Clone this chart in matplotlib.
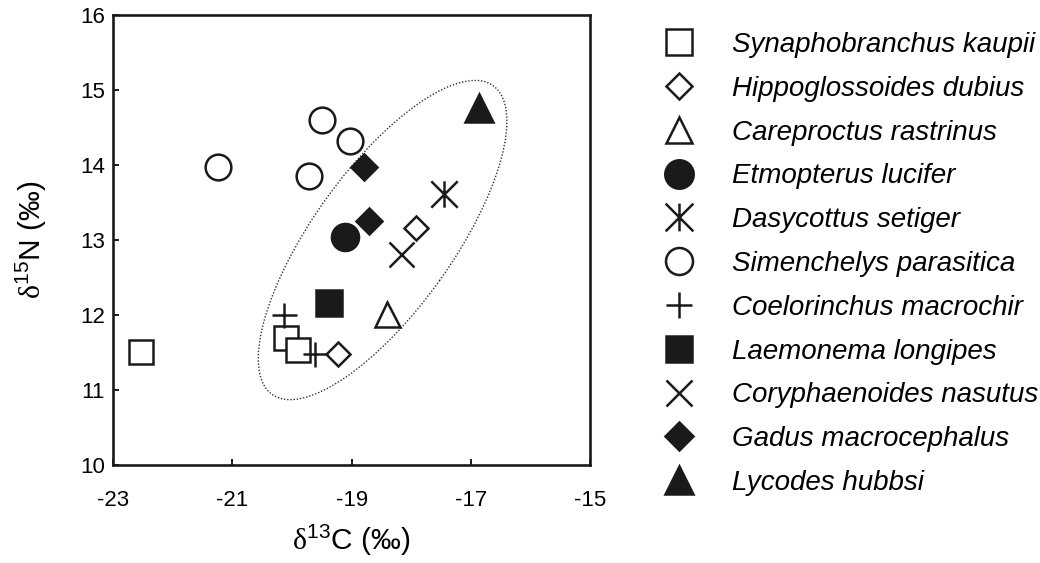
import numpy as np
import matplotlib
matplotlib.use("Agg")
import matplotlib.pyplot as plt
from matplotlib.patches import Ellipse
from matplotlib.path import Path
from matplotlib.transforms import Affine2D

plt.rcParams['font.family'] = ['Liberation Sans', 'DejaVu Sans']
plt.rcParams['axes.unicode_minus'] = False
plt.rcParams['mathtext.fontset'] = 'custom'
plt.rcParams['mathtext.rm'] = 'Liberation Serif'
plt.rcParams['mathtext.sf'] = 'Liberation Sans'

# species, in legend order
species = ["Synaphobranchus kaupii", "Hippoglossoides dubius", "Careproctus rastrinus",
           "Etmopterus lucifer", "Dasycottus setiger", "Simenchelys parasitica",
           "Coelorinchus macrochir", "Laemonema longipes", "Coryphaenoides nasutus",
           "Gadus macrocephalus", "Lycodes hubbsi"]

# d13C / d15N values
d13C = [[-22.53, -20.10, -19.90],
        [-19.22, -17.92],
        [-18.41],
        [-19.11],
        [-17.45],
        [-21.24, -19.49, -19.02, -19.71],
        [-20.14, -19.61],
        [-19.38],
        [-18.17],
        [-18.79, -18.70],
        [-16.86]]
d15N = [[11.51, 11.69, 11.53],
        [11.48, 13.16],
        [12.02],
        [13.04],
        [13.62],
        [13.98, 14.60, 14.32, 13.86],
        [12.00, 11.48],
        [12.16],
        [12.81],
        [13.98, 13.26],
        [14.76]]

# asterisk = vertical bar + x
star = Path([(0, -1), (0, 1), (-1, -1), (1, 1), (-1, 1), (1, -1)],
            [Path.MOVETO, Path.LINETO, Path.MOVETO, Path.LINETO, Path.MOVETO, Path.LINETO])

styles = [dict(marker='s', ms=17.5, mfc='white'),
          dict(marker='D', ms=12.5, mfc='white'),
          dict(marker='^', ms=18, mfc='white'),
          dict(marker='o', ms=19.5, mfc='#1a1a1a'),
          dict(marker=star, ms=19, mfc='none'),
          dict(marker='o', ms=18.5, mfc='white'),
          dict(marker='+', ms=18, mfc='none'),
          dict(marker='s', ms=18.5, mfc='#1a1a1a'),
          dict(marker='x', ms=18, mfc='none'),
          dict(marker='D', ms=13.5, mfc='#1a1a1a'),
          dict(marker='^', ms=19.5, mfc='#1a1a1a')]

fig = plt.figure(figsize=(10.4, 5.63), dpi=100)
ax = fig.add_axes([0.1087, 0.174, 0.4587, 0.7993])

handles = []
for name, xs, ys, st in zip(species, d13C, d15N, styles):
    h, = ax.plot(xs, ys, linestyle='none', color='#1a1a1a', mec='#1a1a1a',
                 mew=1.8, label=name, **st)
    handles.append(h)

# dotted ellipse, defined in pixel-like units then scaled to data
ell_center = (-18.48, 13.0)
ell_axes = (2 * 189.8, 2 * 69.9)
ell_angle = 54.4
px_per_unit = (59.6, 75.0)
ell = Ellipse((0, 0), ell_axes[0], ell_axes[1], angle=ell_angle, fill=False,
              edgecolor='#333333', linewidth=1.0, linestyle=(0, (1, 1.3)),
              transform=Affine2D().scale(1 / px_per_unit[0], 1 / px_per_unit[1])
              .translate(*ell_center) + ax.transData)
ax.add_patch(ell)

ax.set_xlim(-23, -15)
ax.set_ylim(10, 16)
ax.set_xticks([-23, -21, -19, -17, -15])
ax.set_yticks([10, 11, 12, 13, 14, 15, 16])
for s in ax.spines.values():
    s.set_linewidth(1.9)
    s.set_color('#1a1a1a')
ax.tick_params(direction='in', length=4, width=1.4, labelsize=16, color='#1a1a1a')
ax.tick_params(axis='x', pad=18)
ax.tick_params(axis='y', pad=6)

ax.set_xlabel(r'$\mathrm{\delta}^{\mathsf{13}}$C (‰)', fontsize=21.5, labelpad=8)
ax.set_ylabel(r'$\mathrm{\delta}^{\mathsf{15}}$N (‰)', fontsize=21.5, labelpad=22.5)

leg = fig.legend(handles=handles, loc='upper left', bbox_to_anchor=(0.6395, 0.943),
                 frameon=False, prop={'style': 'italic', 'size': 20},
                 handlelength=1.0, handletextpad=1.41, labelspacing=0.64,
                 borderpad=0, borderaxespad=0, markerscale=1.05)

fig.savefig("out.png", dpi=100)
